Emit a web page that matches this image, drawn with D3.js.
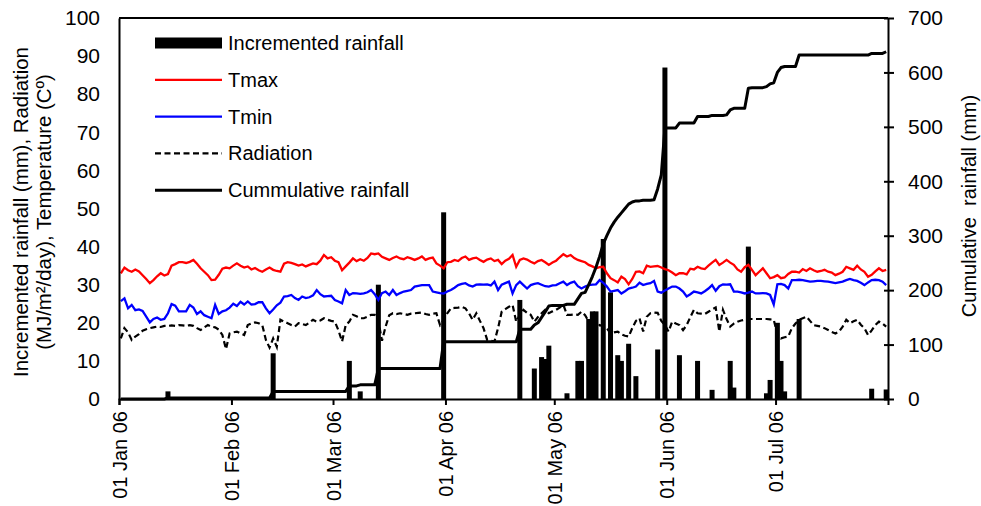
<!DOCTYPE html>
<html>
<head>
<meta charset="utf-8">
<script src="https://cdnjs.cloudflare.com/ajax/libs/d3/7.8.5/d3.min.js"></script>
<style>
body{margin:0;background:#fff;}
svg text{font-family:"Liberation Sans",Arial,Helvetica,sans-serif;fill:#000;}
</style>
</head>
<body>
<svg id="chart" width="981" height="506"></svg>
<script>
// daily series, 01 Jan 2006 .. 31 Jul 2006 (one row per month)
var tmax = [
  33.0,34.5,33.8,33.4,34.0,33.5,32.5,31.5,30.4,31.2,32.2,33.0,32.4,32.8,35.0,35.4,35.9,35.9,35.7,36.0,36.5,35.5,34.3,33.4,32.5,31.2,31.3,32.6,34.2,34.5,34.3,
  35.0,35.6,35.0,34.5,34.8,34.0,34.4,33.8,33.4,34.0,34.5,33.9,33.6,33.4,35.5,35.9,35.7,35.4,35.0,35.3,34.8,35.2,35.6,35.4,36.3,37.8,36.9,37.2,
  36.3,35.9,33.8,34.8,35.8,36.9,36.2,36.7,36.3,37.0,38.2,38.0,38.2,37.3,36.9,36.5,37.0,37.4,36.9,36.7,37.2,36.9,36.5,36.9,37.4,36.5,36.9,37.1,35.6,35.0,34.3,
  35.9,36.0,36.5,36.2,37.0,37.4,36.5,36.9,37.1,36.5,36.0,36.6,36.9,36.2,36.5,35.4,36.3,36.8,37.8,34.7,36.5,36.9,36.6,36.0,35.6,36.2,36.5,35.9,35.2,35.8,
  36.3,37.2,38.0,37.4,37.8,37.0,36.5,36.2,35.9,35.2,34.8,34.3,34.6,34.7,33.0,31.7,31.2,30.6,32.1,31.5,30.1,31.5,33.4,33.5,33.0,35.0,34.7,34.8,34.9,34.5,34.1,
  33.8,33.2,32.5,33.0,33.0,32.7,34.2,34.0,34.7,34.3,34.1,35.0,35.8,36.5,35.2,35.8,36.5,35.8,35.2,34.0,33.4,34.6,35.2,33.9,32.5,33.4,34.3,33.0,31.7,32.0,
  32.5,31.7,31.9,32.8,33.4,33.4,33.2,34.1,33.6,34.3,33.8,33.4,33.6,33.9,33.4,33.2,32.5,32.9,33.4,34.7,34.3,33.9,35.0,34.0,33.4,32.1,32.6,33.5,34.3,33.6,33.9
];
var tmin = [
  25.7,26.4,23.8,24.7,23.3,23.5,23.1,21.6,20.1,21.0,21.4,20.8,21.0,22.5,24.9,24.5,23.0,23.0,23.0,24.7,24.0,22.3,23.0,22.0,21.6,21.2,24.7,22.3,23.0,23.3,24.0,
  25.0,24.4,25.5,24.8,25.6,24.8,24.9,25.4,25.4,23.8,22.5,23.5,24.6,25.3,26.9,27.0,27.3,26.5,26.0,26.9,26.5,26.7,27.2,28.6,27.5,26.9,27.0,27.1,
  26.0,25.6,25.1,28.6,27.3,27.8,27.7,27.6,27.7,28.0,28.6,27.5,26.0,27.8,28.2,27.3,28.6,27.3,27.8,28.2,28.4,28.6,29.5,29.7,29.9,29.9,29.9,28.2,28.0,27.8,27.7,
  28.2,28.6,29.2,29.9,30.2,30.4,29.8,29.5,30.0,30.1,30.0,30.1,29.8,30.8,28.6,30.0,30.4,30.8,27.7,29.9,30.8,29.9,29.0,29.9,30.2,30.4,30.0,29.6,29.5,29.8,
  29.9,30.4,30.8,29.9,30.5,30.8,29.6,29.0,29.5,29.9,30.0,30.1,31.2,30.5,29.5,28.2,28.4,28.6,27.7,28.3,29.0,29.2,29.5,30.5,29.9,30.2,30.4,31.0,28.2,27.9,28.5,
  29.0,29.5,29.5,29.0,28.2,26.9,27.5,28.2,28.0,27.7,28.3,29.0,29.9,28.4,29.6,30.1,30.0,30.1,28.2,28.2,28.0,27.7,27.9,28.2,27.7,27.7,27.8,27.7,27.3,24.8,
  30.1,30.2,29.9,29.0,31.2,31.2,31.3,31.2,31.0,30.8,30.9,31.0,31.0,30.9,30.8,30.6,30.4,30.6,30.8,31.2,31.5,31.2,31.0,30.5,29.9,30.6,31.2,31.3,31.2,30.8,29.9
];
var radiation = [
  15.9,18.6,17.5,15.5,16.4,17.0,17.9,18.3,18.6,18.8,19.0,18.9,19.2,19.2,19.3,19.2,19.4,19.3,19.2,19.4,19.2,18.6,18.1,18.8,19.4,19.0,18.8,18.2,16.8,13.1,17.2,
  17.5,17.7,17.2,16.8,19.4,19.8,20.1,19.9,19.4,15.5,13.5,15.9,13.7,20.8,20.3,19.9,19.4,19.0,19.9,19.7,19.4,20.1,20.8,20.3,20.6,21.2,20.8,20.5,
  20.3,18.0,15.1,19.4,20.3,22.1,21.7,21.2,21.2,21.6,22.1,22.1,20.5,15.3,19.0,22.0,22.5,22.3,22.5,22.3,22.1,22.4,22.5,22.6,22.7,22.3,22.1,22.4,22.5,19.4,20.8,
  22.5,23.8,23.9,24.0,24.2,23.8,22.5,20.8,22.5,20.5,18.6,15.5,15.3,15.1,18.6,22.9,23.6,24.2,24.7,20.3,22.0,23.4,22.6,22.1,20.3,21.5,22.5,23.4,22.5,23.0,
  23.4,24.0,24.7,22.1,22.1,22.2,22.1,22.9,22.0,20.3,17.7,18.5,19.4,19.0,18.6,17.2,17.5,17.7,17.0,16.6,16.4,18.6,20.5,21.2,17.7,21.6,22.5,22.7,22.6,20.5,19.4,
  17.7,20.3,19.8,19.4,18.1,19.4,21.5,23.4,22.5,22.4,22.3,22.9,23.5,24.0,17.7,23.4,21.0,19.0,19.8,20.3,20.6,20.8,21.0,21.0,21.0,21.0,21.0,21.0,20.9,20.8,
  17.0,15.9,16.2,16.4,18.6,19.8,20.8,21.2,21.6,20.5,19.4,19.2,19.0,18.6,18.1,17.6,17.2,17.7,19.0,20.8,19.9,20.4,20.8,19.5,18.6,16.8,18.0,19.4,20.3,19.8,19.0
];
var cumulativeRain = [
  0,0,0,0,0,0,0,0,0,0,0,0,0,2,2,2,2,2,2,2,2,2,2,2,2,2,2,2,2,2,2,
  2,2,2,2,2,2,2,2,2,2,2,14,14,14,14,14,14,14,14,14,14,14,14,14,14,14,14,14,
  14,14,14,14,24,24,24,26,26,26,26,26,56,56,56,56,56,56,56,56,56,56,56,56,56,56,56,56,56,56,105,
  105,105,105,105,105,105,105,105,105,105,105,105,105,105,105,105,105,105,105,105,128,128,128,128,136,140,150,160,171,172,
  172,172,172,174,174,174,184,194,196,210,225,242,262,285,300,314,325,334,342,350,358,362,364,364,365,365,365,366,386,412,498,
  498,498,498,507,507,507,507,507,519,519,519,519,521,521,521,521,522,531,534,534,534,534,571,572,572,572,572,574,579,581,
  600,609,611,611,611,611,632,632,632,632,632,632,632,632,632,632,632,632,632,632,632,632,632,632,632,632,635,635,635,635,638
];
// days with rain
var rainDates = ["2006-01-14","2006-02-12","2006-03-05","2006-03-08","2006-03-13","2006-03-31",
  "2006-04-21","2006-04-25","2006-04-27","2006-04-28","2006-04-29",
  "2006-05-04","2006-05-07","2006-05-08","2006-05-10","2006-05-11","2006-05-12","2006-05-14","2006-05-16",
  "2006-05-18","2006-05-19","2006-05-21","2006-05-23","2006-05-29","2006-05-31",
  "2006-06-04","2006-06-09","2006-06-13","2006-06-18","2006-06-19","2006-06-23","2006-06-28","2006-06-29",
  "2006-07-01","2006-07-02","2006-07-03","2006-07-07","2006-07-27","2006-07-31"];
var rainMm = [2,12,10,2,30,49,
  26,8,11,10.5,14,
  1.5,10,10,21,23,23,42,28,
  11.5,10,14.5,6,13,87,
  11.5,10,2.4,10,3,40,1.5,5,
  20,10,2,21,2.7,2.5];

var monthTicks = ["2006-01-01","2006-02-01","2006-03-01","2006-04-01","2006-05-01","2006-06-01","2006-07-01"];
var leftTicks = [0,10,20,30,40,50,60,70,80,90,100];
var rightTicks = [0,100,200,300,400,500,600,700];
var legendLabels = ["Incremented rainfall","Tmax","Tmin","Radiation","Cummulative rainfall"];

var parseDay = d3.utcParse("%Y-%m-%d");
var svg = d3.select("#chart");

var plotLeft = 119, plotRight = 888, plotTop = 18, plotBottom = 399;
var x = d3.scaleUtc()
    .domain([parseDay("2006-01-01"), parseDay("2006-08-01")])
    .range([plotLeft, plotRight]);
var yLeft = d3.scaleLinear().domain([0,100]).range([plotBottom, plotTop]);
var yRight = d3.scaleLinear().domain([0,700]).range([plotBottom, plotTop]);

var days = d3.utcDay.range(parseDay("2006-01-01"), parseDay("2006-08-01"));
function mid(d){ return x(d3.utcHour.offset(d, 12)); }

// bars
svg.append("g").selectAll("rect")
    .data(rainMm)
    .enter()
    .append("rect")
    .attr("x", function(d,i){ return mid(parseDay(rainDates[i])) - 2.5; })
    .attr("width", 5)
    .attr("y", function(d){ return yLeft(d); })
    .attr("height", function(d){ return plotBottom - yLeft(d); })
    .attr("fill", "#000");

function dayLine(scale){
    return d3.line()
        .x(function(d,i){ return mid(days[i]); })
        .y(function(d){ return scale(d); });
}

svg.append("path").datum(radiation)
    .attr("d", dayLine(yLeft))
    .attr("fill","none").attr("stroke","#000").attr("stroke-width",2.2)
    .attr("stroke-dasharray","6,3.5");
svg.append("path").datum(tmin)
    .attr("d", dayLine(yLeft))
    .attr("fill","none").attr("stroke","#0000ff").attr("stroke-width",2.3);
svg.append("path").datum(tmax)
    .attr("d", dayLine(yLeft))
    .attr("fill","none").attr("stroke","#ff0000").attr("stroke-width",2.3);
svg.append("path").datum(cumulativeRain)
    .attr("d", dayLine(yRight))
    .attr("fill","none").attr("stroke","#000").attr("stroke-width",3)
    .attr("stroke-linejoin","round");

// axes
var xAxis = svg.append("g")
    .attr("transform","translate(0," + plotBottom + ")")
    .call(d3.axisBottom(x)
        .tickValues(monthTicks.map(parseDay))
        .tickFormat(d3.utcFormat("%d %b %y"))
        .tickSizeInner(6).tickSizeOuter(6));
xAxis.selectAll(".tick text")
    .attr("transform","rotate(-90)")
    .attr("text-anchor","end")
    .attr("x",-12).attr("y",0).attr("dy","0.35em")
    .style("font-size","20px");

var yAxisLeft = svg.append("g")
    .attr("transform","translate(" + plotLeft + ",0)")
    .call(d3.axisLeft(yLeft).tickValues(leftTicks).tickSize(0).tickPadding(19));
yAxisLeft.selectAll(".tick text").style("font-size","21px");

var yAxisRight = svg.append("g")
    .attr("transform","translate(" + plotRight + ",0)")
    .call(d3.axisRight(yRight).tickValues(rightTicks).tickSizeInner(6).tickSizeOuter(0).tickPadding(14));
yAxisRight.selectAll(".tick line").attr("x1",-4);
yAxisRight.selectAll(".tick text").style("font-size","21px");

svg.append("line")
    .attr("x1",plotLeft).attr("x2",plotRight).attr("y1",plotTop).attr("y2",plotTop);

svg.selectAll(".domain, .tick line, svg > line")
    .attr("stroke","#000").attr("stroke-width",2);

// axis titles
var leftTitle = ["Incremented rainfall (mm), Radiation","(MJ/m\u00b2/day), Temperature (C\u00ba)"];
svg.selectAll(".ltitle")
    .data(leftTitle)
    .enter()
    .append("text")
    .attr("class","ltitle")
    .attr("transform",function(d,i){ return "translate(" + (21 + i*23) + ",212) rotate(-90)"; })
    .attr("text-anchor","middle")
    .attr("dy","0.35em")
    .style("font-size","20.4px")
    .text(function(d){ return d; });

svg.append("text")
    .attr("transform","translate(969,206) rotate(-90)")
    .attr("text-anchor","middle")
    .attr("dy","0.35em")
    .style("font-size","20px")
    .style("white-space","pre")
    .text("Cumulative  rainfall (mm)");

// legend
var legend = svg.append("g").selectAll("g")
    .data(legendLabels)
    .enter()
    .append("g")
    .attr("transform",function(d,i){ return "translate(155," + (43 + i*36.8) + ")"; });

legend.each(function(d,i){
    var g = d3.select(this);
    if(i == 0){
        g.append("rect").attr("x",0).attr("y",-5.5).attr("width",67).attr("height",11).attr("fill","#000");
    }else{
        var l = g.append("line").attr("x1",0).attr("x2",67).attr("y1",0).attr("y2",0)
            .attr("stroke-width", i == 4 ? 3 : 2.2);
        if(i == 1){ l.attr("stroke","#ff0000"); }
        if(i == 2){ l.attr("stroke","#0000ff"); }
        if(i == 3){ l.attr("stroke","#000").attr("stroke-dasharray","6,3.5"); }
        if(i == 4){ l.attr("stroke","#000"); }
    }
    g.append("text").attr("x",73).attr("dy","0.35em").style("font-size","20px").text(d);
});
</script>
</body>
</html>
